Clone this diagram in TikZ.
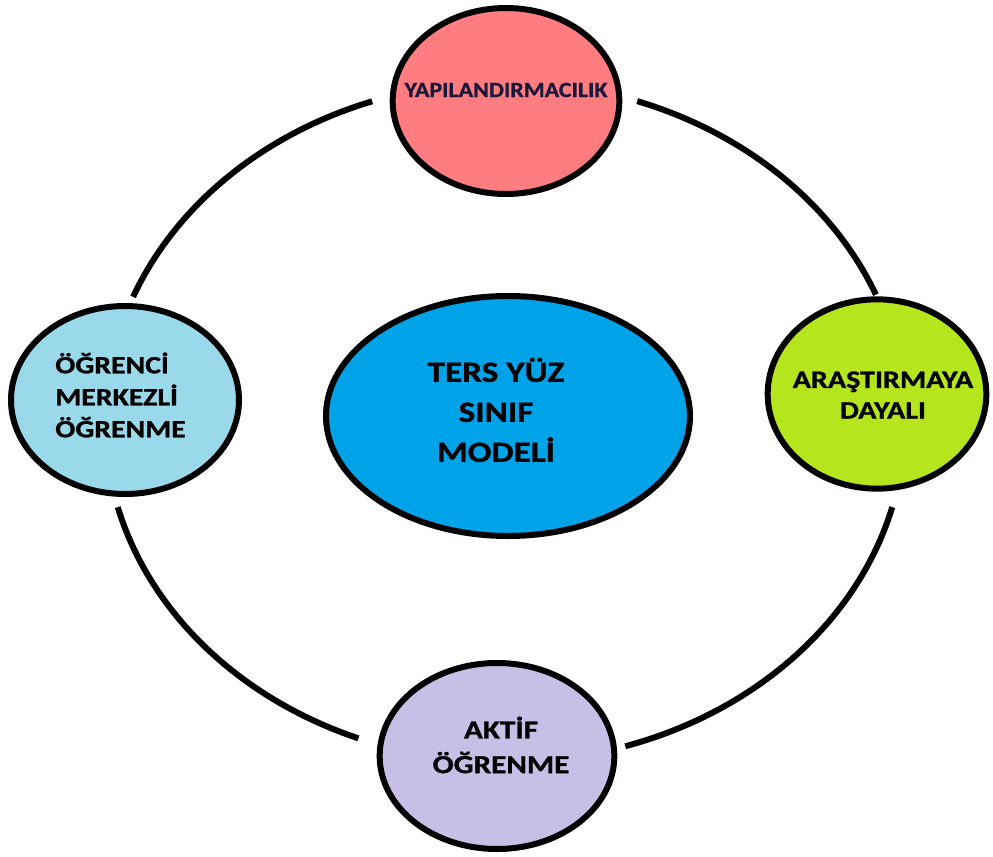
\documentclass[tikz,border=0pt]{standalone}
\usepackage{fontspec}
\setmainfont{Carlito}[FakeStretch=1.2, BoldFeatures={FakeBold=1}]
\newfontfamily\narrowfont{Carlito}[FakeStretch=1.1, BoldFeatures={FakeBold=1}]
\usetikzlibrary{shapes.geometric}

\definecolor{roseFill}{RGB}{255,124,128}
\definecolor{skyFill}{RGB}{153,217,234}
\definecolor{limeFill}{RGB}{181,230,29}
\definecolor{lilacFill}{RGB}{200,191,231}
\definecolor{blueFill}{RGB}{0,162,232}
\definecolor{navyText}{RGB}{25,25,60}

\tikzset{
  bubble/.style={ellipse, draw=black, line width=4.5pt, inner sep=0pt},
  ringline/.style={line width=4.5pt},
  lbl/.style={inner sep=0pt, align=center, font=\bfseries}
}

\begin{document}
\begin{tikzpicture}[x=0.75pt,y=0.75pt,yscale=-1,xscale=1]
\useasboundingbox (0,0) rectangle (993,857);

\coordinate (ring) at (505,422);

%Curve Lines
\draw[ringline] ([shift={(250.6:400 and 340)}]ring) arc[start angle=250.6, end angle=201.6, x radius=400, y radius=340];
%Curve Lines
\draw[ringline] ([shift={(165.5:400 and 340)}]ring) arc[start angle=165.5, end angle=111.5, x radius=400, y radius=340];
%Curve Lines
\draw[ringline] ([shift={(72.5:400 and 340)}]ring) arc[start angle=72.5, end angle=14.5, x radius=400, y radius=340];
%Curve Lines
\draw[ringline] ([shift={(338:400 and 340)}]ring) arc[start angle=338, end angle=289.3, x radius=400, y radius=340];

%Shape: Ellipse
\node[bubble, fill=blueFill, minimum width=273pt, minimum height=180pt] (model) at (508,416) {};
%Shape: Ellipse
\node[bubble, fill=roseFill, minimum width=170pt, minimum height=139.5pt] (yapi) at (506,101) {};
%Shape: Ellipse
\node[bubble, fill=skyFill, minimum width=171pt, minimum height=141pt] (ogrenci) at (125,400) {};
%Shape: Ellipse
\node[bubble, fill=limeFill, minimum width=164pt, minimum height=142pt] (arastirma) at (877,394) {};
%Shape: Ellipse
\node[bubble, fill=lilacFill, minimum width=176pt, minimum height=139.5pt] (aktif) at (497,756) {};

% Text Node
\node[lbl, font=\bfseries\fontsize{22}{30}\selectfont] (modelText) at (496,410) {TERS YÜZ\\SINIF\\MODELİ};
% Text Node
\node[lbl, text=navyText, font=\narrowfont\bfseries\fontsize{16.3}{19}\selectfont] (yapiText) at (506,90) {YAPILANDIRMACILIK};
% Text Node
\node[lbl, align=left, anchor=west, font=\bfseries\fontsize{18.6}{24}\selectfont] (ogrenciText) at (55,395) {ÖĞRENCİ\\MERKEZLİ\\ÖĞRENME};
% Text Node
\node[lbl, font=\bfseries\fontsize{18.8}{23}\selectfont] (arastirmaText) at (883,395) {ARAŞTIRMAYA\\DAYALI};
% Text Node
\node[lbl, font=\bfseries\fontsize{19.5}{26}\selectfont] (aktifText) at (501,745) {AKTİF\\ÖĞRENME};

\end{tikzpicture}
\end{document}
